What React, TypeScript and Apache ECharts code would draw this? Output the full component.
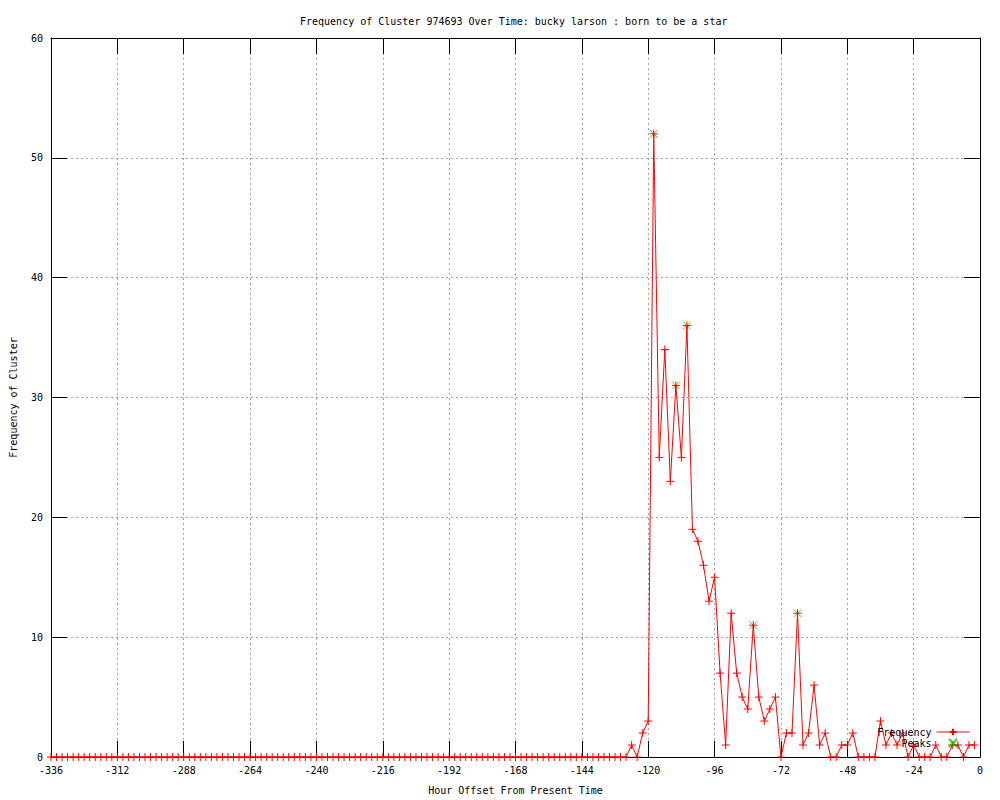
import React, { useEffect, useRef } from "react";
import * as echarts from "echarts";

const titleText = "Frequency of Cluster 974693 Over Time: bucky larson : born to be a star";
const xAxisTitle = "Hour Offset From Present Time";
const yAxisTitle = "Frequency of Cluster";

const xTicks = [-336, -312, -288, -264, -240, -216, -192, -168, -144, -120, -96, -72, -48, -24, 0];
const yTicks = [0, 10, 20, 30, 40, 50, 60];

const hours = [
  -336, -334, -332, -330, -328, -326, -324, -322, -320, -318, -316, -314,
  -312, -310, -308, -306, -304, -302, -300, -298, -296, -294, -292, -290,
  -288, -286, -284, -282, -280, -278, -276, -274, -272, -270, -268, -266,
  -264, -262, -260, -258, -256, -254, -252, -250, -248, -246, -244, -242,
  -240, -238, -236, -234, -232, -230, -228, -226, -224, -222, -220, -218,
  -216, -214, -212, -210, -208, -206, -204, -202, -200, -198, -196, -194,
  -192, -190, -188, -186, -184, -182, -180, -178, -176, -174, -172, -170,
  -168, -166, -164, -162, -160, -158, -156, -154, -152, -150, -148, -146,
  -144, -142, -140, -138, -136, -134, -132, -130, -128, -126, -124, -122,
  -120, -118, -116, -114, -112, -110, -108, -106, -104, -102, -100, -98,
  -96, -94, -92, -90, -88, -86, -84, -82, -80, -78, -76, -74,
  -72, -70, -68, -66, -64, -62, -60, -58, -56, -54, -52, -50,
  -48, -46, -44, -42, -40, -38, -36, -34, -32, -30, -28, -26,
  -24, -22, -20, -18, -16, -14, -12, -10, -8, -6, -4, -2,
];

const frequency = [
  0, 0, 0, 0, 0, 0, 0, 0, 0, 0, 0, 0,
  0, 0, 0, 0, 0, 0, 0, 0, 0, 0, 0, 0,
  0, 0, 0, 0, 0, 0, 0, 0, 0, 0, 0, 0,
  0, 0, 0, 0, 0, 0, 0, 0, 0, 0, 0, 0,
  0, 0, 0, 0, 0, 0, 0, 0, 0, 0, 0, 0,
  0, 0, 0, 0, 0, 0, 0, 0, 0, 0, 0, 0,
  0, 0, 0, 0, 0, 0, 0, 0, 0, 0, 0, 0,
  0, 0, 0, 0, 0, 0, 0, 0, 0, 0, 0, 0,
  0, 0, 0, 0, 0, 0, 0, 0, 0, 1, 0, 2,
  3, 52, 25, 34, 23, 31, 25, 36, 19, 18, 16, 13,
  15, 7, 1, 12, 7, 5, 4, 11, 5, 3, 4, 5,
  0, 2, 2, 12, 1, 2, 6, 1, 2, 0, 0, 1,
  1, 2, 0, 0, 0, 0, 3, 1, 2, 1, 2, 0,
  1, 0, 0, 0, 1, 0, 0, 1, 1, 0, 1, 1,
];

const peakHours = [-118, -110, -106, -82, -66];
const peakValues = [52, 31, 36, 11, 12];

const FONT = "'DejaVu Sans Mono', 'Liberation Mono', monospace";

export default function App() {
  const ref = useRef<HTMLDivElement>(null);

  useEffect(() => {
    if (!ref.current) return;
    const chart = echarts.init(ref.current, null, { renderer: "svg" });

    const gridLine = { show: true, lineStyle: { color: "#a0a0a0", type: [2, 3] as any, width: 1 } };
    const axisLine = { show: true, onZero: false, lineStyle: { color: "#000", width: 1 } };
    const tick = { show: true, inside: true, length: 16, lineStyle: { color: "#000", width: 1 } };

    const xCommon = {
      type: "value" as const,
      min: xTicks[0],
      max: xTicks[xTicks.length - 1],
      interval: 24,
    };
    const yCommon = {
      type: "value" as const,
      min: yTicks[0],
      max: yTicks[yTicks.length - 1],
      interval: 10,
    };

    const option: any = {
      animation: false,
      backgroundColor: "#fff",
      title: {
        text: titleText,
        left: 295,
        top: 11,
        textStyle: { fontFamily: FONT, fontSize: 10, fontWeight: "normal", color: "#000" },
      },
      grid: { left: 50, right: 20, top: 38, bottom: 40, containLabel: false },
      legend: {
        orient: "vertical",
        right: 30,
        top: 727,
        padding: 0,
        align: "right",
        itemWidth: 33,
        itemHeight: 8,
        itemGap: 1,
        lineStyle: { width: 1 },
        textStyle: { fontFamily: FONT, fontSize: 10, color: "#000" },
        data: ["Frequency", "Peaks"],
      },
      xAxis: [
        {
          ...xCommon,
          position: "bottom",
          name: xAxisTitle,
          nameLocation: "middle",
          nameGap: 28,
          nameTextStyle: { fontFamily: FONT, fontSize: 10, color: "#000" },
          axisLine,
          axisTick: tick,
          axisLabel: { fontFamily: FONT, fontSize: 10, color: "#000", margin: 8 },
          splitLine: gridLine,
        },
        {
          ...xCommon,
          position: "top",
          axisLine,
          axisTick: tick,
          axisLabel: { show: false },
          splitLine: { show: false },
        },
      ],
      yAxis: [
        {
          ...yCommon,
          position: "left",
          name: yAxisTitle,
          nameLocation: "middle",
          nameGap: 33,
          nameRotate: 90,
          nameTextStyle: { fontFamily: FONT, fontSize: 10, color: "#000" },
          axisLine,
          axisTick: tick,
          axisLabel: { fontFamily: FONT, fontSize: 10, color: "#000", margin: 8 },
          splitLine: gridLine,
        },
        {
          ...yCommon,
          position: "right",
          axisLine,
          axisTick: tick,
          axisLabel: { show: false },
          splitLine: { show: false },
        },
      ],
      series: [
        {
          name: "Peaks",
          type: "scatter",
          xAxisIndex: 0,
          yAxisIndex: 0,
          z: 2,
          clip: false,
          symbol: "path://M0,0L10,10M10,0L0,10",
          symbolSize: 8,
          itemStyle: { color: "transparent", borderColor: "#00c000", borderWidth: 1 },
          data: peakHours.map((h, i) => [h, peakValues[i]]),
        },
        {
          name: "Frequency",
          type: "line",
          xAxisIndex: 0,
          yAxisIndex: 0,
          z: 3,
          clip: false,
          showAllSymbol: true,
          symbol: "path://M0,5L10,5M5,0L5,10",
          symbolSize: 8,
          lineStyle: { color: "#ff0000", width: 1 },
          itemStyle: { color: "transparent", borderColor: "#ff0000", borderWidth: 1 },
          data: hours.map((h, i) => [h, frequency[i]]),
        },
      ],
    };

    chart.setOption(option);
    return () => chart.dispose();
  }, []);

  return (
    <div
      ref={ref}
      style={{ position: "fixed", left: 0, top: 0, width: 1000, height: 800, background: "#fff" }}
    />
  );
}
